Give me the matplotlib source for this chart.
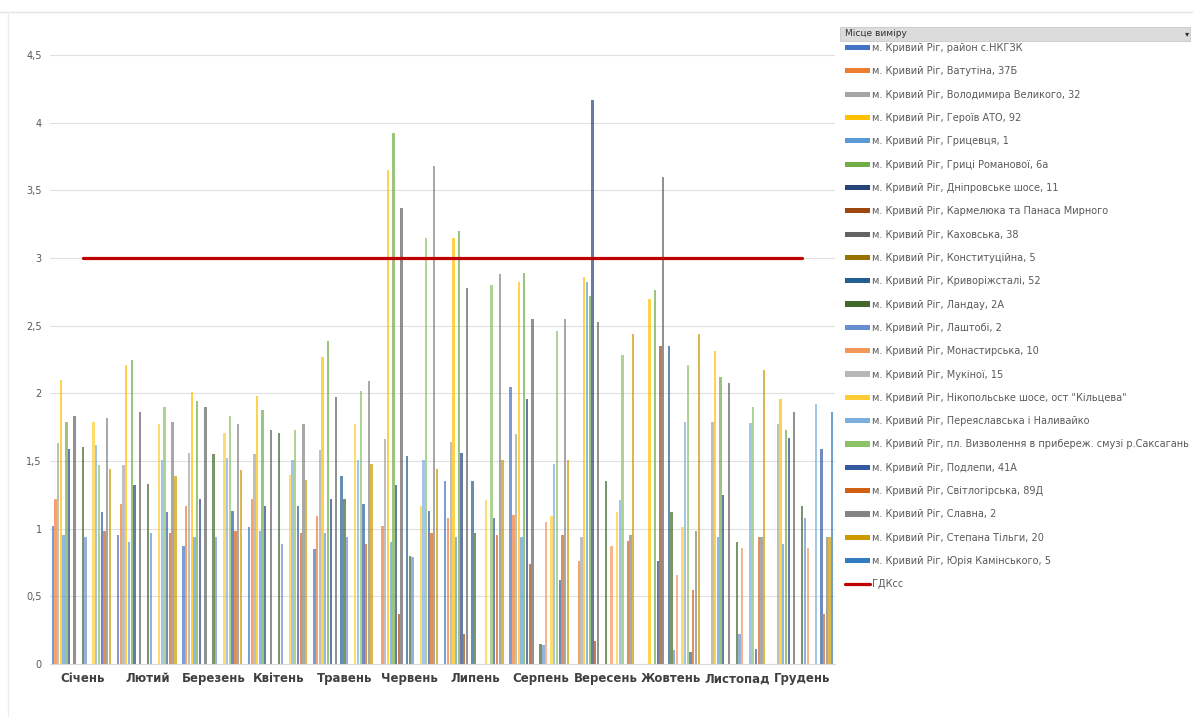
import numpy as np
import matplotlib.pyplot as plt
from matplotlib.patches import Rectangle
from matplotlib.lines import Line2D
from matplotlib.ticker import FuncFormatter

n = np.nan

months = ['Січень', 'Лютий', 'Березень', 'Квітень', 'Травень', 'Червень',
          'Липень', 'Серпень', 'Вересень', 'Жовтень', 'Листопад', 'Грудень']

series_names = [
    'м. Кривий Ріг, район с.НКГЗК',
    'м. Кривий Ріг, Ватутіна, 37Б',
    'м. Кривий Ріг, Володимира Великого, 32',
    'м. Кривий Ріг, Героїв АТО, 92',
    'м. Кривий Ріг, Грицевця, 1',
    'м. Кривий Ріг, Гриці Романової, 6а',
    'м. Кривий Ріг, Дніпровське шосе, 11',
    'м. Кривий Ріг, Кармелюка та Панаса Мирного',
    'м. Кривий Ріг, Каховська, 38',
    'м. Кривий Ріг, Конституційна, 5',
    'м. Кривий Ріг, Криворіжсталі, 52',
    'м. Кривий Ріг, Ландау, 2А',
    'м. Кривий Ріг, Лаштобі, 2',
    'м. Кривий Ріг, Монастирська, 10',
    'м. Кривий Ріг, Мукіної, 15',
    'м. Кривий Ріг, Нікопольське шосе, ост "Кільцева"',
    'м. Кривий Ріг, Переяславська і Наливайко',
    'м. Кривий Ріг, пл. Визволення в прибереж. смузі р.Саксагань',
    'м. Кривий Ріг, Подлепи, 41А',
    'м. Кривий Ріг, Світлогірська, 89Д',
    'м. Кривий Ріг, Славна, 2',
    'м. Кривий Ріг, Степана Тільги, 20',
    'м. Кривий Ріг, Юрія Камінського, 5',
]

# one list per month, one value per measuring point (nan = no measurement)
jan = [1.02, 1.22, 1.63, 2.10, 0.95, 1.79, 1.59, n, 1.83, n, n, 1.60, 0.94, n, n, 1.79, 1.62, 1.47, 1.12, 0.98, 1.82, 1.44, n]
feb = [0.95, 1.18, 1.47, 2.21, 0.90, 2.25, 1.32, n, 1.86, n, n, 1.33, 0.97, n, n, 1.77, 1.51, 1.90, 1.12, 0.97, 1.79, 1.39, n]
mar = [0.87, 1.17, 1.56, 2.01, 0.94, 1.94, 1.22, n, 1.90, n, n, 1.55, 0.94, n, n, 1.71, 1.52, 1.83, 1.13, 0.98, 1.77, 1.43, n]
apr = [1.01, 1.22, 1.55, 1.98, 0.98, 1.88, 1.17, n, 1.73, n, n, 1.71, 0.89, n, n, 1.40, 1.51, 1.73, 1.17, 0.97, 1.77, 1.36, n]
may = [0.85, 1.09, 1.58, 2.27, 0.97, 2.39, 1.22, n, 1.97, n, 1.39, 1.22, 0.94, n, n, 1.77, 1.51, 2.02, 1.18, 0.89, 2.09, 1.48, n]
jun = [n, 1.02, 1.66, 3.65, 0.90, 3.92, 1.32, 0.37, 3.37, n, 1.54, 0.80, 0.79, n, n, 1.17, 1.51, 3.15, 1.13, 0.97, 3.68, 1.44, n]
jul = [1.35, 1.08, 1.64, 3.15, 0.94, 3.20, 1.56, 0.22, 2.78, n, 1.35, 0.97, n, n, n, 1.21, n, 2.80, 1.08, 0.95, 2.88, 1.51, n]
aug = [2.05, 1.10, 1.70, 2.82, 0.94, 2.89, 1.96, 0.74, 2.55, n, n, 0.15, 0.14, 1.05, n, 1.09, 1.48, 2.46, 0.62, 0.95, 2.55, 1.51, n]
sep = [n, 0.76, 0.94, 2.86, 2.82, 2.72, 4.17, 0.17, 2.53, n, n, 1.35, n, 0.87, n, 1.12, 1.21, 2.28, n, 0.91, 0.95, 2.44, n]
oct = [n, n, n, 2.70, n, 2.76, 0.76, 2.35, 3.60, n, 2.35, 1.12, 0.10, 0.66, n, 1.01, 1.79, 2.21, 0.09, 0.55, 0.98, 2.44, n]
nov = [n, n, 1.79, 2.31, 0.94, 2.12, 1.25, n, 2.08, n, n, 0.90, 0.22, 0.86, n, n, 1.78, 1.90, 0.11, 0.94, 0.94, 2.17, n]
dec = [n, n, 1.77, 1.96, 0.89, 1.73, 1.67, n, 1.86, n, n, 1.17, 1.08, 0.86, n, n, 1.92, n, 1.59, 0.37, 0.94, 0.94, 1.86]

limit = [3, 3, 3, 3, 3, 3, 3, 3, 3, 3, 3, 3]  # ГДКсс

colors = ['#4472C4', '#ED7D31', '#A5A5A5', '#FFC000', '#5B9BD5', '#70AD47',
          '#264478', '#9E480E', '#636363', '#997300', '#255E91', '#43682B',
          '#698ED0', '#F1975A', '#B7B7B7', '#FFCD33', '#7CAFDD', '#8CC168',
          '#335AA1', '#D26012', '#848484', '#CC9A00', '#327DC2']

values = np.array([jan, feb, mar, apr, may, jun, jul, aug, sep, oct, nov, dec]).T

W, H = 1193, 717
fig = plt.figure(figsize=(W / 100, H / 100), dpi=100)
ax = fig.add_axes([50 / W, 1 - 664 / H, 785 / W, 609 / H])

x = np.arange(len(months))
w = 1 / 24
for i, name in enumerate(series_names):
    ax.bar(x + (i - 11) * w, values[i], width=w * 0.85, color=colors[i], alpha=0.7,
           label=name, linewidth=0)
ax.plot(x, limit, color='#C00000', lw=2.3, label='ГДКсс', solid_capstyle='round')

ax.set_xlim(-0.5, 11.5)
ax.set_ylim(0, 4.5)
ax.set_yticks(np.arange(0, 4.51, 0.5))
ax.yaxis.set_major_formatter(FuncFormatter(lambda v, p: f'{v:g}'.replace('.', ',')))
ax.tick_params(axis='y', length=0, labelsize=7, labelcolor='#595959', pad=6)
ax.tick_params(axis='x', length=0, pad=6)
ax.set_xticks(x, months, fontsize=8.5, fontweight='bold', color='#404040')
ax.grid(axis='y', color='#e0e0e0', lw=0.8)
ax.set_axisbelow(True)
for s in ['top', 'right', 'left']:
    ax.spines[s].set_visible(False)
ax.spines['bottom'].set_color('#d9d9d9')

# legend with pivot field header, limit line listed last
handles, labels = ax.get_legend_handles_labels()
handles = handles[1:] + handles[:1]
labels = labels[1:] + labels[:1]
leg = fig.legend(handles, labels, loc='upper left', bbox_to_anchor=(845 / W, 1 - 43 / H),
                 frameon=False, fontsize=7, labelcolor='#595959', labelspacing=1.37,
                 handlelength=2.6, handleheight=0.45, handletextpad=0.2,
                 borderpad=0, borderaxespad=0)
for h in leg.legend_handles:
    h.set_alpha(1)
fig.add_artist(Rectangle((840 / W, 1 - 41 / H), 350 / W, 14 / H, transform=fig.transFigure,
                         facecolor='#dcdcdc', edgecolor='#c8c8c8', lw=0.6))
fig.text(845 / W, 1 - 34 / H, 'Місце виміру', fontsize=6.5, color='#303030', va='center')
fig.text(1187 / W, 1 - 34 / H, '▾', fontsize=6, color='#303030', va='center', ha='center')

fig.add_artist(Line2D([0, 1], [1 - 12 / H] * 2, color='#e4e4e4', lw=1))
fig.add_artist(Line2D([8 / W] * 2, [0, 1 - 12 / H], color='#ececec', lw=1))

fig.savefig('out.png', dpi=100)
